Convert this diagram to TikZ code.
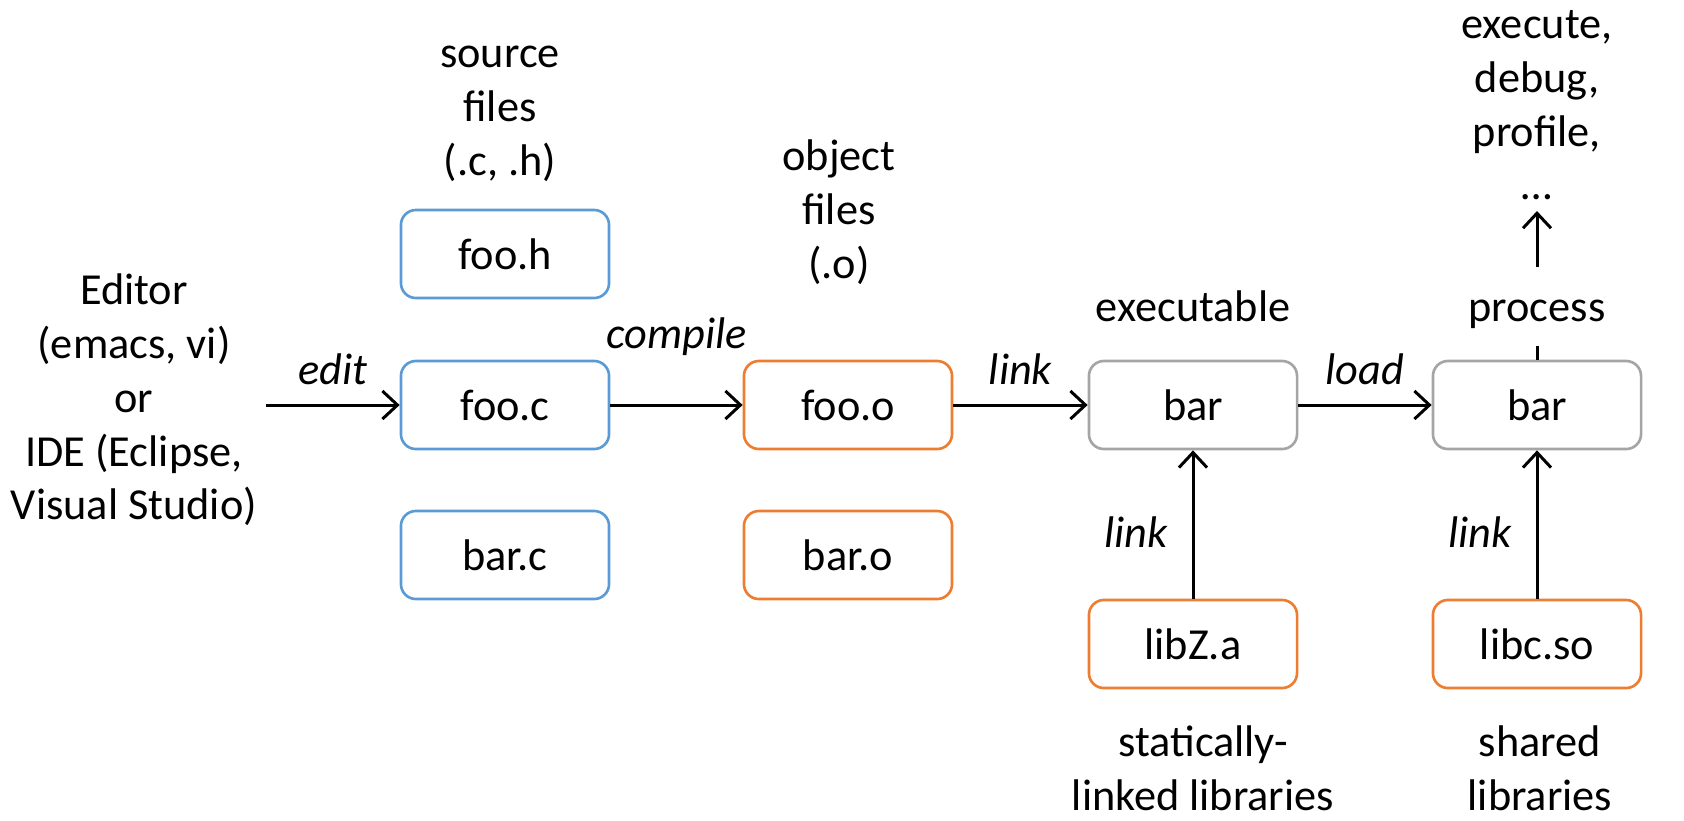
\documentclass[tikz,border=0pt]{standalone}
\usepackage{fontspec}
\setmainfont{Carlito}
\usetikzlibrary{arrows.meta}
\definecolor{srcblue}{HTML}{5B9BD5}
\definecolor{objorange}{HTML}{ED7D31}
\definecolor{bingray}{HTML}{A5A5A5}

\begin{document}
\begin{tikzpicture}[
    x=0.01cm, y=-0.01cm,
    every node/.style={font=\fontsize{12.6}{15.3}\selectfont, align=center},
    box/.style={rectangle, rounded corners=0.15cm, line width=0.75pt, minimum width=2.08cm, minimum height=0.88cm},
    src/.style={box, draw=srcblue},
    obj/.style={box, draw=objorange},
    bin/.style={box, draw=bingray},
    act/.style={font=\fontsize{12.6}{15.3}\selectfont\itshape},
    flow/.style={-{Straight Barb[length=1.5mm,width=2.8mm]}, line width=0.85pt}
]
    \useasboundingbox (0,0) rectangle (1684,820);

    \node[src] (fooh) at (505,254) {foo.h};
    \node[src] (fooc) at (505,405) {foo.c};
    \node[src] (barc) at (505,555) {bar.c};
    \node[obj] (fooo) at (848,405) {foo.o};
    \node[obj] (baro) at (848,555) {bar.o};
    \node[bin] (exe) at (1193,405) {bar};
    \node[bin] (proc) at (1537,405) {bar};
    \node[obj] (libz) at (1193,644) {libZ.a};
    \node[obj] (libc) at (1537,644) {libc.so};

    \node (editor) at (134,400) {Editor\\(emacs, vi)\\or\\IDE (Eclipse,\\Visual Studio)};
    \coordinate (edout) at (266,405);
    \node (srcfiles) at (500,114) {source\\files\\(.c, .h)};
    \node (objfiles) at (839,212) {object\\files\\(.o)};
    \node[anchor=base] (exelbl) at (1193,321) {executable};
    \node[anchor=base, text height=0.4cm, text depth=0.115cm, inner ysep=0.13cm] (proclbl) at (1537,321) {process};
    \node[anchor=south, inner ysep=0.1cm] (uses) at (1537,211) {execute,\\debug,\\profile,\\…};
    \node (statlbl) at (1203,768) {statically-\\linked libraries};
    \node (sharedlbl) at (1540,768) {shared\\libraries};

    \draw[flow] (edout) -- node[act, above=0.07cm] {edit} (fooc);
    \draw[flow] (fooc) -- node[act, above=0.36cm] {compile} (fooo);
    \draw[flow] (fooo) -- node[act, above=0.07cm] {link} (exe);
    \draw[flow] (exe) -- node[act, above=0.07cm] {load} (proc);
    \draw[flow] (libz) -- node[act, left=0.12cm, pos=0.45] {link} (exe);
    \draw[flow] (libc) -- node[act, left=0.12cm, pos=0.45] {link} (proc);
    \draw[line width=0.85pt] (proc.north) -- (proclbl.south);
    \draw[flow] (proclbl.north) -- (uses.south);
\end{tikzpicture}
\end{document}
